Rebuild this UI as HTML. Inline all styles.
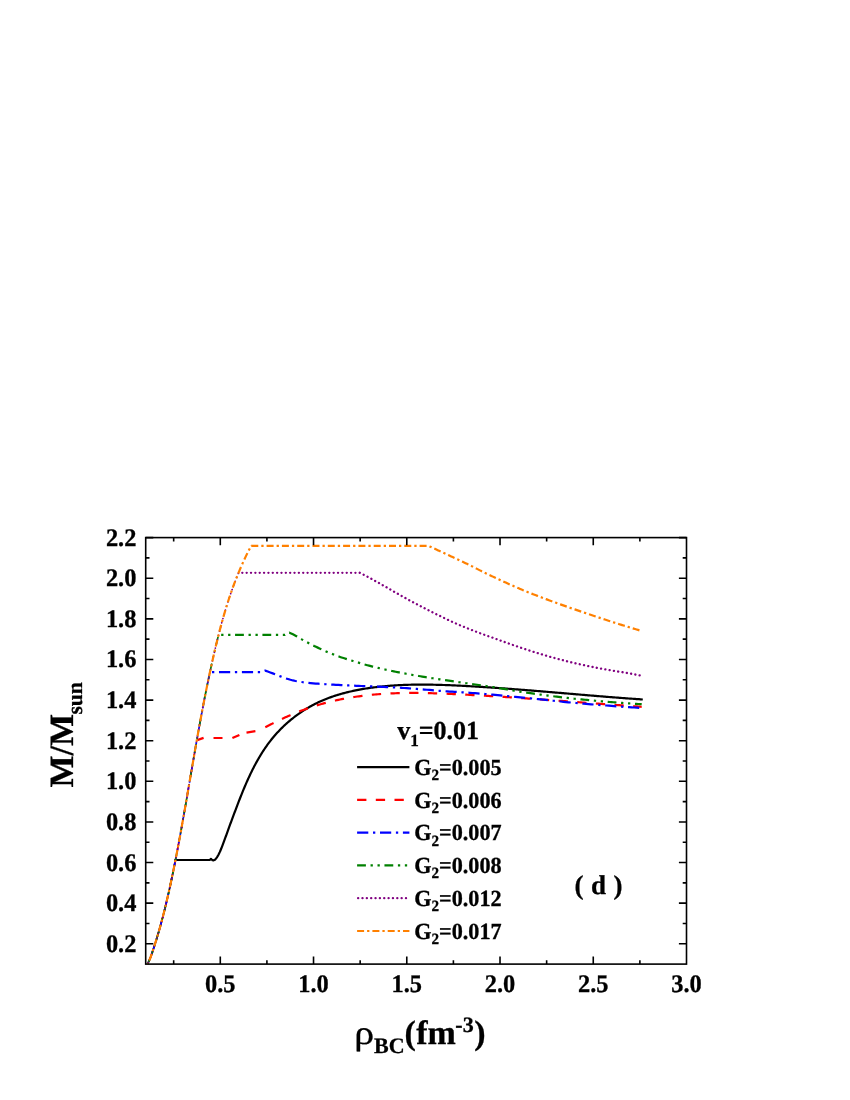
<!DOCTYPE html>
<html><head><meta charset="utf-8"><title>chart</title>
<style>html,body{margin:0;padding:0;background:#fff;}body{width:850px;height:1100px;position:relative;overflow:hidden;font-family:"Liberation Serif",serif;}</style>
</head><body>
<svg width="850" height="1100" viewBox="0 0 850 1100" style="position:absolute;left:0;top:0;will-change:transform">
<rect width="850" height="1100" fill="#fff"/>
<g fill="none" stroke-width="2.2" stroke-linejoin="round">
<path d="M147.60,964.00 L148.02,963.13 L148.43,962.25 L148.83,961.38 L149.22,960.50 L149.60,959.63 L149.96,958.76 L150.32,957.88 L150.66,957.01 L150.99,956.13 L151.31,955.26 L151.62,954.39 L151.91,953.51 L152.20,952.64 L152.49,951.76 L152.78,950.89 L153.06,950.02 L153.35,949.14 L153.64,948.27 L153.93,947.39 L154.21,946.52 L154.49,945.65 L154.77,944.77 L155.05,943.90 L155.33,943.03 L155.60,942.15 L155.88,941.28 L156.15,940.40 L156.42,939.53 L156.68,938.66 L156.95,937.78 L157.21,936.91 L157.48,936.03 L157.74,935.16 L157.99,934.29 L158.25,933.41 L158.51,932.54 L158.76,931.66 L159.01,930.79 L159.26,929.92 L159.51,929.04 L159.76,928.17 L160.00,927.29 L160.24,926.42 L160.49,925.55 L160.73,924.67 L160.97,923.80 L161.20,922.92 L161.44,922.05 L161.67,921.18 L161.91,920.30 L162.14,919.43 L162.37,918.55 L162.60,917.68 L162.83,916.81 L163.06,915.93 L163.28,915.06 L163.51,914.18 L163.73,913.31 L163.95,912.44 L164.17,911.56 L164.39,910.69 L164.61,909.82 L164.83,908.94 L165.04,908.07 L165.25,907.19 L165.47,906.32 L165.68,905.45 L165.89,904.57 L166.10,903.70 L166.30,902.82 L166.51,901.95 L166.72,901.08 L166.92,900.20 L167.12,899.33 L167.33,898.45 L167.53,897.58 L167.73,896.71 L167.93,895.83 L168.13,894.96 L168.32,894.08 L168.52,893.21 L168.72,892.34 L168.91,891.46 L169.11,890.59 L169.30,889.71 L169.50,888.84 L169.69,887.97 L169.88,887.09 L170.07,886.22 L170.26,885.34 L170.45,884.47 L170.64,883.60 L170.82,882.72 L171.01,881.85 L171.19,880.97 L171.38,880.10 L171.56,879.23 L171.75,878.35 L171.93,877.48 L172.11,876.61 L172.29,875.73 L172.48,874.86 L172.66,873.98 L172.84,873.11 L173.02,872.24 L173.20,871.36 L173.37,870.49 L173.55,869.61 L173.73,868.74 L173.90,867.87 L174.08,866.99 L174.25,866.12 L174.43,865.24 L174.60,864.37 L174.78,863.50 L174.95,862.62 L175.12,861.75 L175.30,860.87 L175.47,860.00 L175.47,860.00" stroke="#000000" stroke-width="1.7"/>
<path d="M175.47,860.00 L210.00,859.90 L210.50,859.30 L210.95,858.80 L211.50,859.30 L212.40,860.00 L212.39,860.05 L213.71,860.33 L214.79,859.85 L215.71,858.93 L216.53,857.87 L217.28,856.78 L217.97,855.66 L218.60,854.51 L219.19,853.34 L219.74,852.15 L220.26,850.95 L220.77,849.74 L221.26,848.52 L221.74,847.30 L222.22,846.08 L222.69,844.85 L223.15,843.63 L223.61,842.40 L224.07,841.17 L224.52,839.94 L224.97,838.71 L225.42,837.48 L225.87,836.25 L226.31,835.02 L226.75,833.79 L227.19,832.56 L227.64,831.33 L228.08,830.10 L228.52,828.87 L228.97,827.65 L229.41,826.42 L229.86,825.20 L230.31,823.98 L230.76,822.75 L231.21,821.53 L231.66,820.31 L232.12,819.09 L232.57,817.87 L233.03,816.64 L233.49,815.42 L233.95,814.20 L234.41,812.97 L234.87,811.75 L235.33,810.52 L235.79,809.30 L236.26,808.07 L236.72,806.84 L237.19,805.61 L237.66,804.39 L238.13,803.16 L238.60,801.93 L239.08,800.70 L239.55,799.48 L240.03,798.25 L240.52,797.03 L241.00,795.80 L241.49,794.58 L241.99,793.35 L242.48,792.13 L242.98,790.91 L243.48,789.69 L243.99,788.48 L244.50,787.26 L245.01,786.05 L245.53,784.84 L246.05,783.63 L246.58,782.42 L247.11,781.22 L247.65,780.01 L248.19,778.81 L248.74,777.62 L249.29,776.42 L249.85,775.23 L250.41,774.05 L250.98,772.86 L251.55,771.68 L252.13,770.50 L252.72,769.33 L253.31,768.16 L253.91,767.00 L254.52,765.84 L255.13,764.68 L255.75,763.53 L256.38,762.38 L257.01,761.23 L257.65,760.09 L258.30,758.96 L258.96,757.83 L259.62,756.71 L260.29,755.59 L260.97,754.48 L261.66,753.37 L262.35,752.27 L263.06,751.17 L263.77,750.08 L264.50,749.00 L265.23,747.92 L265.97,746.85 L266.72,745.79 L267.48,744.73 L268.24,743.68 L269.02,742.63 L269.81,741.60 L270.61,740.57 L271.42,739.54 L272.24,738.53 L273.07,737.52 L273.90,736.52 L274.75,735.53 L275.62,734.54 L276.49,733.57 L277.37,732.60 L278.26,731.64 L279.16,730.69 L280.07,729.74 L280.99,728.81 L281.92,727.88 L282.85,726.97 L283.80,726.06 L284.76,725.16 L285.73,724.27 L286.70,723.39 L287.68,722.52 L288.68,721.65 L289.68,720.80 L290.69,719.96 L291.70,719.13 L292.73,718.30 L293.76,717.49 L294.80,716.69 L295.85,715.89 L296.91,715.11 L297.97,714.34 L299.05,713.58 L300.13,712.83 L301.21,712.09 L302.31,711.36 L303.41,710.64 L304.52,709.93 L305.63,709.24 L306.75,708.55 L307.88,707.88 L309.01,707.22 L310.15,706.57 L311.30,705.93 L312.45,705.31 L313.61,704.69 L314.77,704.09 L315.94,703.50 L317.12,702.92 L318.30,702.36 L319.48,701.81 L320.68,701.27 L321.87,700.74 L323.07,700.22 L324.28,699.71 L325.49,699.22 L326.71,698.74 L327.92,698.26 L329.15,697.80 L330.38,697.35 L331.61,696.91 L332.85,696.49 L334.09,696.07 L335.33,695.66 L336.58,695.26 L337.83,694.87 L339.08,694.49 L340.34,694.12 L341.60,693.77 L342.86,693.42 L344.13,693.07 L345.40,692.74 L346.67,692.42 L347.95,692.10 L349.22,691.80 L350.50,691.50 L351.78,691.21 L353.06,690.93 L354.35,690.66 L355.64,690.39 L356.92,690.13 L358.21,689.88 L359.51,689.64 L360.80,689.40 L362.09,689.17 L363.39,688.95 L364.68,688.74 L365.98,688.53 L367.27,688.33 L368.57,688.13 L369.87,687.94 L371.17,687.76 L372.47,687.58 L373.77,687.41 L375.06,687.24 L376.37,687.08 L377.67,686.93 L378.97,686.78 L380.27,686.64 L381.57,686.50 L382.87,686.37 L384.17,686.24 L385.48,686.12 L386.78,686.00 L388.08,685.89 L389.39,685.79 L390.69,685.69 L392.00,685.59 L393.30,685.50 L394.61,685.41 L395.91,685.33 L397.22,685.26 L398.52,685.18 L399.83,685.12 L401.14,685.05 L402.44,685.00 L403.75,684.94 L405.06,684.89 L406.37,684.85 L407.68,684.80 L408.98,684.77 L410.29,684.73 L411.60,684.70 L412.91,684.68 L414.22,684.66 L415.53,684.64 L416.84,684.62 L418.15,684.61 L419.46,684.60 L420.77,684.60 L422.08,684.60 L423.39,684.60 L424.70,684.61 L426.01,684.61 L427.32,684.63 L428.63,684.64 L429.94,684.66 L431.25,684.68 L432.56,684.70 L433.87,684.73 L435.18,684.76 L436.49,684.79 L437.80,684.82 L439.11,684.85 L440.43,684.89 L441.74,684.93 L443.05,684.98 L444.36,685.02 L445.67,685.07 L446.98,685.12 L448.29,685.17 L449.60,685.22 L450.91,685.27 L452.22,685.33 L453.53,685.39 L454.84,685.45 L456.16,685.51 L457.47,685.57 L458.78,685.63 L460.09,685.70 L461.40,685.76 L462.71,685.83 L464.02,685.90 L465.33,685.96 L466.64,686.03 L467.94,686.11 L469.25,686.18 L470.56,686.25 L471.87,686.32 L473.18,686.40 L474.49,686.48 L475.80,686.55 L477.11,686.63 L478.42,686.71 L479.72,686.79 L481.03,686.87 L482.34,686.95 L483.65,687.03 L484.96,687.12 L486.26,687.20 L487.57,687.29 L488.88,687.37 L490.19,687.46 L491.50,687.55 L492.80,687.63 L494.11,687.72 L495.42,687.81 L496.72,687.90 L498.03,688.00 L499.34,688.09 L500.65,688.18 L501.95,688.27 L503.26,688.37 L504.57,688.46 L505.87,688.56 L507.18,688.65 L508.48,688.75 L509.79,688.85 L511.10,688.95 L512.40,689.04 L513.71,689.14 L515.02,689.24 L516.32,689.34 L517.63,689.44 L518.93,689.54 L520.24,689.65 L521.55,689.75 L522.85,689.85 L524.16,689.95 L525.46,690.06 L526.77,690.16 L528.07,690.27 L529.38,690.37 L530.69,690.47 L531.99,690.58 L533.30,690.69 L534.60,690.79 L535.91,690.90 L537.21,691.01 L538.52,691.11 L539.82,691.22 L541.13,691.33 L542.43,691.44 L543.74,691.54 L545.04,691.65 L546.35,691.76 L547.65,691.87 L548.96,691.98 L550.26,692.09 L551.57,692.20 L552.88,692.31 L554.18,692.42 L555.49,692.53 L556.79,692.64 L558.10,692.75 L559.40,692.86 L560.71,692.97 L562.01,693.08 L563.32,693.19 L564.62,693.30 L565.93,693.41 L567.23,693.52 L568.54,693.63 L569.84,693.74 L571.15,693.85 L572.45,693.96 L573.76,694.07 L575.06,694.19 L576.37,694.30 L577.67,694.41 L578.98,694.52 L580.28,694.63 L581.59,694.74 L582.89,694.85 L584.20,694.95 L585.51,695.06 L586.81,695.17 L588.12,695.28 L589.42,695.39 L590.73,695.50 L592.03,695.61 L593.34,695.72 L594.65,695.82 L595.95,695.93 L597.26,696.04 L598.56,696.14 L599.87,696.25 L601.17,696.36 L602.48,696.46 L603.79,696.57 L605.09,696.67 L606.40,696.78 L607.71,696.88 L609.01,696.98 L610.32,697.09 L611.63,697.19 L612.93,697.29 L614.24,697.40 L615.55,697.50 L616.85,697.60 L618.16,697.70 L619.47,697.80 L620.77,697.90 L622.08,698.00 L623.39,698.09 L624.70,698.19 L626.00,698.29 L627.31,698.38 L628.62,698.48 L629.93,698.58 L631.23,698.67 L632.54,698.76 L633.85,698.86 L635.16,698.95 L636.47,699.04 L637.77,699.13 L639.08,699.22 L640.39,699.31 L641.70,699.40" stroke="#000000" stroke-linecap="square"/>
<path d="M147.60,964.00 L148.49,962.12 L149.34,960.24 L150.13,958.35 L150.87,956.47 L151.55,954.59 L152.18,952.71 L152.80,950.82 L153.42,948.94 L154.04,947.06 L154.65,945.18 L155.24,943.29 L155.83,941.41 L156.42,939.53 L156.99,937.65 L157.56,935.76 L158.11,933.88 L158.66,932.00 L159.20,930.12 L159.74,928.24 L160.26,926.35 L160.78,924.47 L161.29,922.59 L161.80,920.71 L162.30,918.82 L162.79,916.94 L163.28,915.06 L163.76,913.18 L164.24,911.29 L164.71,909.41 L165.17,907.53 L165.63,905.65 L166.08,903.76 L166.53,901.88 L166.97,900.00 L167.40,898.12 L167.84,896.24 L168.26,894.35 L168.69,892.47 L169.11,890.59 L169.53,888.71 L169.94,886.82 L170.35,884.94 L170.75,883.06 L171.15,881.18 L171.55,879.29 L171.94,877.41 L172.34,875.53 L172.73,873.65 L173.11,871.76 L173.50,869.88 L173.88,868.00 L174.25,866.12 L174.63,864.24 L175.00,862.35 L175.38,860.47 L175.75,858.59 L176.11,856.71 L176.48,854.82 L176.84,852.94 L177.21,851.06 L177.57,849.18 L177.92,847.29 L178.28,845.41 L178.63,843.53 L178.98,841.65 L179.33,839.76 L179.68,837.88 L180.03,836.00 L180.38,834.12 L180.73,832.24 L181.07,830.35 L181.41,828.47 L181.75,826.59 L182.09,824.71 L182.43,822.82 L182.77,820.94 L183.11,819.06 L183.44,817.18 L183.77,815.29 L184.10,813.41 L184.43,811.53 L184.76,809.65 L185.09,807.76 L185.42,805.88 L185.75,804.00 L186.08,802.12 L186.41,800.24 L186.73,798.35 L187.06,796.47 L187.38,794.59 L187.70,792.71 L188.03,790.82 L188.35,788.94 L188.68,787.06 L189.00,785.18 L189.32,783.29 L189.65,781.41 L189.97,779.53 L190.30,777.65 L190.62,775.76 L190.94,773.88 L191.27,772.00 L191.59,770.12 L191.92,768.24 L192.24,766.35 L192.56,764.47 L192.89,762.59 L193.22,760.71 L193.54,758.82 L193.87,756.94 L194.20,755.06 L194.53,753.18 L194.85,751.29 L195.18,749.41 L195.51,747.53 L195.84,745.65 L196.17,743.76 L196.50,741.88 L196.84,740.00" stroke="#ff0000" stroke-width="1.7" stroke-dasharray="9.3 9.4" stroke-dashoffset="13.35"/>
<path d="M197.10,740.10 L203.60,737.90 M213.50,738.00 L222.50,738.00 M232.40,738.00 L239.40,734.90 M246.50,732.60 L255.40,731.20" stroke="#ff0000"/>
<path d="M265.30,727.30 L266.72,726.55 L268.14,725.81 L269.56,725.07 L270.98,724.34 L272.41,723.61 L273.84,722.89 L275.28,722.17 L276.72,721.46 L278.16,720.76 L279.60,720.06 L281.05,719.37 L282.50,718.69 L283.96,718.01 L285.42,717.34 L286.88,716.68 L288.34,716.03 L289.81,715.39 L291.28,714.75 L292.75,714.12 L294.23,713.50 L295.71,712.89 L297.20,712.29 L298.68,711.70 L300.17,711.11 L301.67,710.54 L303.17,709.98 L304.67,709.43 L306.17,708.88 L307.68,708.35 L309.19,707.83 L310.70,707.32 L312.22,706.82 L313.74,706.33 L315.27,705.85 L316.79,705.38 L318.32,704.92 L319.86,704.47 L321.39,704.03 L322.93,703.60 L324.47,703.18 L326.01,702.77 L327.56,702.37 L329.11,701.98 L330.66,701.60 L332.21,701.23 L333.77,700.86 L335.33,700.51 L336.89,700.17 L338.45,699.83 L340.01,699.51 L341.58,699.19 L343.15,698.89 L344.72,698.59 L346.29,698.30 L347.86,698.02 L349.44,697.74 L351.01,697.48 L352.59,697.23 L354.17,696.98 L355.75,696.74 L357.33,696.51 L358.91,696.29 L360.50,696.08 L362.08,695.87 L363.67,695.67 L365.26,695.48 L366.84,695.30 L368.43,695.13 L370.02,694.96 L371.61,694.80 L373.20,694.65 L374.80,694.51 L376.39,694.37 L377.98,694.24 L379.57,694.12 L381.17,694.00 L382.76,693.89 L384.36,693.79 L385.96,693.70 L387.55,693.61 L389.15,693.52 L390.75,693.45 L392.34,693.38 L393.94,693.31 L395.54,693.25 L397.14,693.20 L398.74,693.15 L400.34,693.11 L401.94,693.07 L403.54,693.04 L405.15,693.01 L406.75,692.99 L408.35,692.98 L409.95,692.96 L411.55,692.96 L413.16,692.95 L414.76,692.96 L416.36,692.96 L417.97,692.97 L419.57,692.99 L421.18,693.01 L422.78,693.03 L424.38,693.06 L425.99,693.09 L427.59,693.12 L429.20,693.16 L430.80,693.20 L432.41,693.24 L434.01,693.29 L435.62,693.34 L437.22,693.39 L438.83,693.44 L440.43,693.50 L442.04,693.56 L443.64,693.62 L445.24,693.69 L446.85,693.76 L448.45,693.82 L450.06,693.90 L451.66,693.97 L453.26,694.04 L454.87,694.12 L456.47,694.20 L458.07,694.28 L459.68,694.36 L461.28,694.44 L462.88,694.52 L464.48,694.60 L466.08,694.69 L467.68,694.77 L469.28,694.86 L470.88,694.94 L472.49,695.03 L474.09,695.12 L475.68,695.21 L477.28,695.30 L478.88,695.39 L480.48,695.48 L482.08,695.58 L483.68,695.67 L485.28,695.76 L486.88,695.86 L488.47,695.95 L490.07,696.05 L491.67,696.15 L493.27,696.25 L494.86,696.35 L496.46,696.45 L498.06,696.55 L499.65,696.65 L501.25,696.75 L502.84,696.85 L504.44,696.95 L506.04,697.06 L507.63,697.16 L509.23,697.27 L510.82,697.37 L512.42,697.48 L514.01,697.58 L515.61,697.69 L517.20,697.80 L518.80,697.91 L520.39,698.01 L521.98,698.12 L523.58,698.23 L525.17,698.34 L526.77,698.45 L528.36,698.56 L529.96,698.68 L531.55,698.79 L533.14,698.90 L534.74,699.01 L536.33,699.13 L537.92,699.24 L539.52,699.35 L541.11,699.47 L542.71,699.58 L544.30,699.70 L545.89,699.81 L547.49,699.93 L549.08,700.04 L550.67,700.16 L552.27,700.27 L553.86,700.39 L555.45,700.51 L557.05,700.62 L558.64,700.74 L560.24,700.86 L561.83,700.97 L563.42,701.09 L565.02,701.21 L566.61,701.33 L568.21,701.45 L569.80,701.56 L571.39,701.68 L572.99,701.80 L574.58,701.92 L576.18,702.04 L577.77,702.16 L579.37,702.27 L580.96,702.39 L582.55,702.51 L584.15,702.63 L585.74,702.75 L587.34,702.87 L588.94,702.99 L590.53,703.11 L592.13,703.22 L593.72,703.34 L595.32,703.46 L596.91,703.58 L598.51,703.70 L600.11,703.81 L601.70,703.93 L603.30,704.05 L604.90,704.17 L606.50,704.29 L608.09,704.40 L609.69,704.52 L611.29,704.64 L612.89,704.75 L614.49,704.87 L616.08,704.99 L617.68,705.10 L619.28,705.22 L620.88,705.33 L622.48,705.45 L624.08,705.56 L625.68,705.68 L627.28,705.79 L628.88,705.90 L630.48,706.02 L632.09,706.13 L633.69,706.24 L635.29,706.36 L636.89,706.47 L638.49,706.58 L640.10,706.69 L641.70,706.80" stroke="#ff0000" stroke-dasharray="9.3 9.4" stroke-dashoffset="0.00"/>
<path d="M147.60,964.00 L148.75,961.55 L149.82,959.10 L150.80,956.64 L151.68,954.19 L152.50,951.74 L153.31,949.29 L154.11,946.84 L154.90,944.38 L155.67,941.93 L156.43,939.48 L157.18,937.03 L157.91,934.57 L158.63,932.12 L159.33,929.67 L160.02,927.22 L160.70,924.77 L161.37,922.31 L162.03,919.86 L162.67,917.41 L163.31,914.96 L163.93,912.51 L164.55,910.05 L165.15,907.60 L165.75,905.15 L166.33,902.70 L166.91,900.25 L167.48,897.79 L168.04,895.34 L168.59,892.89 L169.14,890.44 L169.69,887.98 L170.22,885.53 L170.75,883.08 L171.27,880.63 L171.78,878.18 L172.30,875.72 L172.80,873.27 L173.31,870.82 L173.80,868.37 L174.30,865.92 L174.78,863.46 L175.27,861.01 L175.75,858.56 L176.23,856.11 L176.71,853.66 L177.18,851.20 L177.65,848.75 L178.11,846.30 L178.57,843.85 L179.03,841.39 L179.49,838.94 L179.94,836.49 L180.39,834.04 L180.85,831.59 L181.29,829.13 L181.74,826.68 L182.18,824.23 L182.62,821.78 L183.06,819.33 L183.49,816.87 L183.93,814.42 L184.36,811.97 L184.78,809.52 L185.21,807.07 L185.64,804.61 L186.07,802.16 L186.50,799.71 L186.92,797.26 L187.34,794.81 L187.76,792.35 L188.19,789.90 L188.61,787.45 L189.03,785.00 L189.45,782.54 L189.87,780.09 L190.30,777.64 L190.72,775.19 L191.14,772.74 L191.56,770.28 L191.98,767.83 L192.41,765.38 L192.83,762.93 L193.26,760.48 L193.68,758.02 L194.11,755.57 L194.54,753.12 L194.96,750.67 L195.39,748.22 L195.82,745.76 L196.25,743.31 L196.69,740.86 L197.12,738.41 L197.56,735.95 L198.00,733.50 L198.44,731.05 L198.88,728.60 L199.33,726.15 L199.78,723.69 L200.23,721.24 L200.68,718.79 L201.14,716.34 L201.60,713.89 L202.06,711.43 L202.52,708.98 L202.99,706.53 L203.46,704.08 L203.93,701.63 L204.41,699.17 L204.89,696.72 L205.38,694.27 L205.87,691.82 L206.37,689.36 L206.87,686.91 L207.36,684.46 L207.87,682.01 L208.37,679.56 L208.89,677.10 L209.41,674.65 L209.94,672.20 L209.94,672.20" stroke="#0000ff" stroke-width="1.7" stroke-dasharray="11.2 4.7 2.3 4.7" stroke-dashoffset="12.75"/>
<path d="M209.94,672.20 L260.50,672.20 L265.20,670.60 L265.20,670.60 L267.73,671.53 L270.25,672.46 L272.78,673.40 L275.31,674.34 L277.83,675.34 L280.36,676.36 L282.89,677.34 L285.41,678.26 L287.94,679.05 L290.47,679.78 L293.00,680.44 L295.52,680.99 L298.05,681.44 L300.58,681.85 L303.10,682.22 L305.63,682.55 L308.16,682.84 L310.68,683.10 L313.21,683.33 L315.74,683.53 L318.26,683.72 L320.79,683.90 L323.32,684.07 L325.84,684.23 L328.37,684.39 L330.90,684.55 L333.42,684.69 L335.95,684.83 L338.48,684.97 L341.01,685.10 L343.53,685.23 L346.06,685.35 L348.59,685.47 L351.11,685.58 L353.64,685.68 L356.17,685.78 L358.69,685.88 L361.22,685.98 L363.75,686.08 L366.27,686.18 L368.80,686.28 L371.33,686.38 L373.85,686.49 L376.38,686.60 L378.91,686.71 L381.43,686.82 L383.96,686.93 L386.49,687.04 L389.02,687.16 L391.54,687.28 L394.07,687.41 L396.60,687.54 L399.12,687.69 L401.65,687.85 L404.18,688.02 L406.70,688.19 L409.23,688.38 L411.76,688.57 L414.28,688.77 L416.81,688.96 L419.34,689.16 L421.86,689.35 L424.39,689.55 L426.92,689.76 L429.44,689.97 L431.97,690.18 L434.50,690.40 L437.03,690.61 L439.55,690.81 L442.08,691.01 L444.61,691.19 L447.13,691.37 L449.66,691.53 L452.19,691.69 L454.71,691.84 L457.24,691.99 L459.77,692.14 L462.29,692.29 L464.82,692.45 L467.35,692.61 L469.87,692.79 L472.40,692.98 L474.93,693.17 L477.46,693.37 L479.98,693.58 L482.51,693.79 L485.04,694.01 L487.56,694.23 L490.09,694.45 L492.62,694.68 L495.14,694.92 L497.67,695.15 L500.20,695.39 L502.72,695.63 L505.25,695.88 L507.78,696.12 L510.30,696.36 L512.83,696.61 L515.36,696.86 L517.88,697.10 L520.41,697.35 L522.94,697.59 L525.47,697.83 L527.99,698.08 L530.52,698.33 L533.05,698.59 L535.57,698.85 L538.10,699.12 L540.63,699.38 L543.15,699.65 L545.68,699.92 L548.21,700.19 L550.73,700.46 L553.26,700.73 L555.79,701.00 L558.31,701.27 L560.84,701.53 L563.37,701.79 L565.89,702.04 L568.42,702.29 L570.95,702.54 L573.48,702.77 L576.00,703.01 L578.53,703.23 L581.06,703.45 L583.58,703.66 L586.11,703.88 L588.64,704.09 L591.16,704.30 L593.69,704.51 L596.22,704.72 L598.74,704.92 L601.27,705.13 L603.80,705.33 L606.32,705.52 L608.85,705.72 L611.38,705.91 L613.90,706.10 L616.43,706.29 L618.96,706.47 L621.49,706.65 L624.01,706.83 L626.54,707.01 L629.07,707.18 L631.59,707.35 L634.12,707.52 L636.65,707.68 L639.17,707.84 L641.70,708.00" stroke="#0000ff" stroke-dasharray="11.2 4.7 2.3 4.7" stroke-dashoffset="13.85"/>
<path d="M147.60,964.00 L148.89,961.23 L150.08,958.47 L151.15,955.70 L152.11,952.94 L153.01,950.17 L153.92,947.41 L154.82,944.64 L155.69,941.88 L156.55,939.11 L157.38,936.34 L158.20,933.58 L159.00,930.81 L159.79,928.05 L160.56,925.28 L161.31,922.52 L162.06,919.75 L162.78,916.99 L163.50,914.22 L164.20,911.45 L164.89,908.69 L165.56,905.92 L166.22,903.16 L166.88,900.39 L167.52,897.63 L168.15,894.86 L168.77,892.10 L169.39,889.33 L170.00,886.56 L170.59,883.80 L171.18,881.03 L171.76,878.27 L172.34,875.50 L172.91,872.74 L173.48,869.97 L174.04,867.21 L174.59,864.44 L175.14,861.67 L175.68,858.91 L176.22,856.14 L176.76,853.38 L177.29,850.61 L177.82,847.85 L178.34,845.08 L178.86,842.32 L179.37,839.55 L179.89,836.78 L180.40,834.02 L180.91,831.25 L181.41,828.49 L181.91,825.72 L182.41,822.96 L182.90,820.19 L183.40,817.43 L183.88,814.66 L184.37,811.89 L184.85,809.13 L185.34,806.36 L185.82,803.60 L186.30,800.83 L186.78,798.07 L187.26,795.30 L187.73,792.54 L188.21,789.77 L188.68,787.01 L189.16,784.24 L189.64,781.47 L190.11,778.71 L190.59,775.94 L191.07,773.18 L191.54,770.41 L192.02,767.65 L192.49,764.88 L192.97,762.12 L193.45,759.35 L193.93,756.58 L194.41,753.82 L194.89,751.05 L195.38,748.29 L195.86,745.52 L196.35,742.76 L196.84,739.99 L197.33,737.23 L197.83,734.46 L198.32,731.69 L198.82,728.93 L199.32,726.16 L199.83,723.40 L200.34,720.63 L200.86,717.87 L201.37,715.10 L201.89,712.34 L202.41,709.57 L202.94,706.80 L203.47,704.04 L204.00,701.27 L204.54,698.51 L205.09,695.74 L205.64,692.98 L206.20,690.21 L206.76,687.45 L207.32,684.68 L207.88,681.91 L208.46,679.15 L209.04,676.38 L209.63,673.62 L210.23,670.85 L210.82,668.09 L211.43,665.32 L212.04,662.56 L212.65,659.79 L213.28,657.02 L213.91,654.26 L214.55,651.49 L215.20,648.73 L215.85,645.96 L216.52,643.20 L217.19,640.43 L217.87,637.67 L218.57,634.90 L218.57,634.90" stroke="#008000" stroke-width="1.7" stroke-dasharray="8.8 4.65 2.3 4.65 2.3 4.65" stroke-dashoffset="1.96"/>
<path d="M218.57,634.90 L285.00,634.90 L289.40,632.70 L289.40,632.70 L291.17,633.50 L292.94,634.35 L294.71,635.25 L296.48,636.19 L298.25,637.22 L300.02,638.31 L301.79,639.38 L303.56,640.37 L305.33,641.33 L307.10,642.27 L308.87,643.23 L310.64,644.20 L312.41,645.15 L314.18,646.03 L315.96,646.85 L317.73,647.63 L319.50,648.40 L321.27,649.21 L323.04,650.04 L324.81,650.88 L326.58,651.66 L328.35,652.40 L330.12,653.11 L331.89,653.82 L333.66,654.53 L335.43,655.24 L337.20,655.93 L338.97,656.57 L340.74,657.17 L342.51,657.74 L344.28,658.29 L346.05,658.85 L347.82,659.40 L349.59,659.93 L351.36,660.47 L353.13,661.00 L354.90,661.53 L356.67,662.05 L358.44,662.58 L360.21,663.12 L361.98,663.67 L363.75,664.20 L365.53,664.70 L367.30,665.19 L369.07,665.66 L370.84,666.11 L372.61,666.56 L374.38,666.99 L376.15,667.42 L377.92,667.85 L379.69,668.26 L381.46,668.67 L383.23,669.07 L385.00,669.47 L386.77,669.86 L388.54,670.24 L390.31,670.62 L392.08,670.99 L393.85,671.35 L395.62,671.72 L397.39,672.07 L399.16,672.42 L400.93,672.77 L402.70,673.11 L404.47,673.44 L406.24,673.78 L408.01,674.10 L409.78,674.43 L411.55,674.75 L413.32,675.06 L415.09,675.37 L416.87,675.68 L418.64,675.99 L420.41,676.29 L422.18,676.58 L423.95,676.87 L425.72,677.16 L427.49,677.45 L429.26,677.73 L431.03,678.00 L432.80,678.27 L434.57,678.54 L436.34,678.81 L438.11,679.08 L439.88,679.34 L441.65,679.61 L443.42,679.88 L445.19,680.15 L446.96,680.41 L448.73,680.68 L450.50,680.94 L452.27,681.20 L454.04,681.46 L455.81,681.73 L457.58,681.99 L459.35,682.24 L461.12,682.50 L462.89,682.76 L464.66,683.01 L466.44,683.26 L468.21,683.51 L469.98,683.75 L471.75,684.00 L473.52,684.24 L475.29,684.49 L477.06,684.73 L478.83,684.98 L480.60,685.23 L482.37,685.48 L484.14,685.73 L485.91,685.99 L487.68,686.25 L489.45,686.52 L491.22,686.79 L492.99,687.07 L494.76,687.36 L496.53,687.65 L498.30,687.95 L500.07,688.26 L501.84,688.57 L503.61,688.88 L505.38,689.19 L507.15,689.50 L508.92,689.81 L510.69,690.12 L512.46,690.43 L514.23,690.73 L516.01,691.03 L517.78,691.32 L519.55,691.61 L521.32,691.88 L523.09,692.15 L524.86,692.41 L526.63,692.67 L528.40,692.92 L530.17,693.17 L531.94,693.42 L533.71,693.67 L535.48,693.92 L537.25,694.16 L539.02,694.41 L540.79,694.65 L542.56,694.89 L544.33,695.12 L546.10,695.36 L547.87,695.59 L549.64,695.82 L551.41,696.05 L553.18,696.27 L554.95,696.49 L556.72,696.71 L558.49,696.93 L560.26,697.14 L562.03,697.35 L563.80,697.56 L565.57,697.76 L567.35,697.96 L569.12,698.15 L570.89,698.35 L572.66,698.53 L574.43,698.72 L576.20,698.90 L577.97,699.08 L579.74,699.25 L581.51,699.42 L583.28,699.60 L585.05,699.77 L586.82,699.93 L588.59,700.10 L590.36,700.27 L592.13,700.43 L593.90,700.60 L595.67,700.76 L597.44,700.92 L599.21,701.07 L600.98,701.23 L602.75,701.38 L604.52,701.54 L606.29,701.69 L608.06,701.83 L609.83,701.98 L611.60,702.12 L613.37,702.27 L615.14,702.41 L616.92,702.54 L618.69,702.68 L620.46,702.81 L622.23,702.94 L624.00,703.07 L625.77,703.19 L627.54,703.32 L629.31,703.44 L631.08,703.55 L632.85,703.67 L634.62,703.78 L636.39,703.89 L638.16,704.00 L639.93,704.10 L641.70,704.20" stroke="#008000" stroke-dasharray="8.8 4.65 2.3 4.65 2.3 4.65" stroke-dashoffset="10.85"/>
<path d="M147.60,964.00 L149.13,960.71 L150.50,957.43 L151.70,954.14 L152.79,950.85 L153.87,947.56 L154.93,944.28 L155.97,940.99 L156.97,937.70 L157.96,934.41 L158.91,931.13 L159.85,927.84 L160.76,924.55 L161.65,921.26 L162.52,917.98 L163.38,914.69 L164.21,911.40 L165.03,908.11 L165.83,904.83 L166.61,901.54 L167.37,898.25 L168.13,894.96 L168.87,891.68 L169.60,888.39 L170.31,885.10 L171.02,881.82 L171.71,878.53 L172.40,875.24 L173.07,871.95 L173.74,868.67 L174.40,865.38 L175.06,862.09 L175.70,858.80 L176.35,855.52 L176.98,852.23 L177.61,848.94 L178.23,845.65 L178.85,842.37 L179.46,839.08 L180.07,835.79 L180.68,832.50 L181.28,829.22 L181.87,825.93 L182.47,822.64 L183.05,819.35 L183.64,816.07 L184.21,812.78 L184.79,809.49 L185.36,806.21 L185.94,802.92 L186.51,799.63 L187.08,796.34 L187.64,793.06 L188.21,789.77 L188.77,786.48 L189.34,783.19 L189.91,779.91 L190.47,776.62 L191.04,773.33 L191.60,770.04 L192.17,766.76 L192.74,763.47 L193.31,760.18 L193.88,756.89 L194.45,753.61 L195.02,750.32 L195.60,747.03 L196.17,743.74 L196.76,740.46 L197.34,737.17 L197.93,733.88 L198.52,730.59 L199.12,727.31 L199.72,724.02 L200.32,720.73 L200.94,717.45 L201.55,714.16 L202.17,710.87 L202.79,707.58 L203.42,704.30 L204.05,701.01 L204.70,697.72 L205.35,694.43 L206.01,691.15 L206.67,687.86 L207.34,684.57 L208.01,681.28 L208.70,678.00 L209.40,674.71 L210.11,671.42 L210.81,668.13 L211.53,664.85 L212.26,661.56 L212.99,658.27 L213.74,654.98 L214.50,651.70 L215.27,648.41 L216.05,645.12 L216.85,641.84 L217.65,638.55 L218.48,635.26 L219.32,631.97 L220.17,628.69 L221.04,625.40 L221.94,622.11 L222.86,618.82 L223.79,615.54 L224.75,612.25 L225.74,608.96 L226.75,605.67 L227.78,602.39 L228.85,599.10 L229.94,595.81 L231.07,592.52 L232.23,589.24 L233.42,585.95 L234.65,582.66 L235.90,579.37 L237.20,576.09 L238.53,572.80 L238.53,572.80" stroke="#800080" stroke-width="1.7" stroke-dasharray="0.1 4.25" stroke-dashoffset="2.77" stroke-linecap="round"/>
<path d="M238.53,572.80 L359.70,572.80 L359.70,572.80 L361.12,573.50 L362.53,574.21 L363.95,574.92 L365.37,575.64 L366.79,576.37 L368.20,577.12 L369.62,577.87 L371.04,578.64 L372.45,579.41 L373.87,580.19 L375.29,580.97 L376.71,581.76 L378.12,582.55 L379.54,583.35 L380.96,584.15 L382.37,584.95 L383.79,585.75 L385.21,586.55 L386.62,587.35 L388.04,588.16 L389.46,588.98 L390.88,589.80 L392.29,590.62 L393.71,591.44 L395.13,592.27 L396.54,593.09 L397.96,593.90 L399.38,594.72 L400.80,595.52 L402.21,596.32 L403.63,597.10 L405.05,597.89 L406.46,598.66 L407.88,599.44 L409.30,600.20 L410.72,600.97 L412.13,601.73 L413.55,602.49 L414.97,603.24 L416.38,603.99 L417.80,604.74 L419.22,605.48 L420.63,606.22 L422.05,606.95 L423.47,607.69 L424.89,608.42 L426.30,609.14 L427.72,609.87 L429.14,610.59 L430.55,611.30 L431.97,612.01 L433.39,612.72 L434.81,613.43 L436.22,614.13 L437.64,614.83 L439.06,615.52 L440.47,616.21 L441.89,616.91 L443.31,617.60 L444.73,618.29 L446.14,618.97 L447.56,619.66 L448.98,620.33 L450.39,621.00 L451.81,621.66 L453.23,622.30 L454.64,622.94 L456.06,623.57 L457.48,624.19 L458.90,624.80 L460.31,625.40 L461.73,625.99 L463.15,626.58 L464.56,627.16 L465.98,627.73 L467.40,628.30 L468.82,628.87 L470.23,629.43 L471.65,629.98 L473.07,630.53 L474.48,631.08 L475.90,631.62 L477.32,632.16 L478.74,632.69 L480.15,633.22 L481.57,633.74 L482.99,634.26 L484.40,634.78 L485.82,635.29 L487.24,635.80 L488.65,636.31 L490.07,636.82 L491.49,637.33 L492.91,637.84 L494.32,638.34 L495.74,638.85 L497.16,639.36 L498.57,639.86 L499.99,640.37 L501.41,640.88 L502.83,641.39 L504.24,641.90 L505.66,642.41 L507.08,642.92 L508.49,643.43 L509.91,643.93 L511.33,644.43 L512.75,644.93 L514.16,645.43 L515.58,645.92 L517.00,646.41 L518.41,646.90 L519.83,647.38 L521.25,647.86 L522.66,648.33 L524.08,648.79 L525.50,649.26 L526.92,649.72 L528.33,650.18 L529.75,650.63 L531.17,651.08 L532.58,651.54 L534.00,651.98 L535.42,652.43 L536.84,652.87 L538.25,653.31 L539.67,653.74 L541.09,654.17 L542.50,654.60 L543.92,655.02 L545.34,655.43 L546.76,655.84 L548.17,656.25 L549.59,656.65 L551.01,657.05 L552.42,657.44 L553.84,657.82 L555.26,658.21 L556.67,658.59 L558.09,658.97 L559.51,659.34 L560.93,659.71 L562.34,660.07 L563.76,660.44 L565.18,660.79 L566.59,661.15 L568.01,661.50 L569.43,661.85 L570.85,662.19 L572.26,662.53 L573.68,662.86 L575.10,663.19 L576.51,663.52 L577.93,663.84 L579.35,664.16 L580.77,664.47 L582.18,664.78 L583.60,665.09 L585.02,665.39 L586.43,665.70 L587.85,665.99 L589.27,666.29 L590.68,666.58 L592.10,666.87 L593.52,667.15 L594.94,667.44 L596.35,667.71 L597.77,667.99 L599.19,668.26 L600.60,668.53 L602.02,668.80 L603.44,669.06 L604.86,669.32 L606.27,669.57 L607.69,669.82 L609.11,670.06 L610.52,670.30 L611.94,670.53 L613.36,670.76 L614.78,670.99 L616.19,671.21 L617.61,671.44 L619.03,671.66 L620.44,671.89 L621.86,672.12 L623.28,672.35 L624.69,672.59 L626.11,672.84 L627.53,673.09 L628.95,673.34 L630.36,673.59 L631.78,673.85 L633.20,674.11 L634.61,674.37 L636.03,674.63 L637.45,674.89 L638.87,675.16 L640.28,675.43 L641.70,675.70" stroke="#800080" stroke-dasharray="0.1 4.25" stroke-dashoffset="0.60" stroke-linecap="round" stroke-width="2.3"/>
<path d="M147.60,964.00 L149.23,960.49 L150.68,956.97 L151.93,953.46 L153.09,949.94 L154.24,946.43 L155.36,942.91 L156.46,939.40 L157.52,935.89 L158.55,932.37 L159.56,928.86 L160.54,925.34 L161.50,921.83 L162.44,918.31 L163.35,914.80 L164.24,911.29 L165.11,907.77 L165.96,904.26 L166.79,900.74 L167.61,897.23 L168.41,893.71 L169.20,890.20 L169.97,886.69 L170.73,883.17 L171.47,879.66 L172.21,876.14 L172.94,872.63 L173.65,869.11 L174.36,865.60 L175.06,862.09 L175.75,858.57 L176.44,855.06 L177.11,851.54 L177.78,848.03 L178.45,844.51 L179.10,841.00 L179.76,837.49 L180.41,833.97 L181.05,830.46 L181.69,826.94 L182.32,823.43 L182.95,819.91 L183.58,816.40 L184.20,812.89 L184.81,809.37 L185.43,805.86 L186.04,802.34 L186.65,798.83 L187.25,795.31 L187.86,791.80 L188.46,788.29 L189.07,784.77 L189.67,781.26 L190.28,777.74 L190.88,774.23 L191.49,770.71 L192.09,767.20 L192.70,763.69 L193.31,760.17 L193.92,756.66 L194.53,753.14 L195.14,749.63 L195.76,746.11 L196.38,742.60 L197.00,739.09 L197.63,735.57 L198.26,732.06 L198.89,728.54 L199.53,725.03 L200.18,721.51 L200.83,718.00 L201.49,714.49 L202.15,710.97 L202.81,707.46 L203.49,703.94 L204.17,700.43 L204.86,696.91 L205.55,693.40 L206.26,689.89 L206.98,686.37 L207.69,682.86 L208.42,679.34 L209.16,675.83 L209.91,672.31 L210.67,668.80 L211.44,665.29 L212.21,661.77 L213.00,658.26 L213.80,654.74 L214.61,651.23 L215.44,647.71 L216.27,644.20 L217.13,640.69 L218.00,637.17 L218.88,633.66 L219.79,630.14 L220.72,626.63 L221.66,623.11 L222.64,619.60 L223.63,616.09 L224.66,612.57 L225.71,609.06 L226.79,605.54 L227.90,602.03 L229.04,598.51 L230.22,595.00 L231.43,591.49 L232.69,587.97 L233.97,584.46 L235.30,580.94 L236.67,577.43 L238.08,573.91 L239.53,570.40 L241.04,566.89 L242.58,563.37 L244.17,559.86 L245.81,556.34 L247.52,552.83 L249.36,549.31 L251.30,545.80 L251.30,545.80 L428.20,545.80 L428.20,545.80 L429.64,546.46 L431.07,547.12 L432.51,547.78 L433.95,548.44 L435.38,549.10 L436.82,549.76 L438.26,550.43 L439.70,551.09 L441.13,551.76 L442.57,552.42 L444.01,553.09 L445.44,553.76 L446.88,554.43 L448.32,555.10 L449.75,555.77 L451.19,556.44 L452.63,557.11 L454.06,557.78 L455.50,558.45 L456.94,559.12 L458.38,559.79 L459.81,560.46 L461.25,561.13 L462.69,561.79 L464.12,562.47 L465.56,563.14 L467.00,563.82 L468.43,564.51 L469.87,565.21 L471.31,565.91 L472.74,566.62 L474.18,567.36 L475.62,568.11 L477.06,568.87 L478.49,569.63 L479.93,570.36 L481.37,571.08 L482.80,571.79 L484.24,572.50 L485.68,573.19 L487.11,573.89 L488.55,574.57 L489.99,575.26 L491.42,575.94 L492.86,576.62 L494.30,577.29 L495.73,577.97 L497.17,578.64 L498.61,579.31 L500.05,579.98 L501.48,580.64 L502.92,581.30 L504.36,581.96 L505.79,582.61 L507.23,583.26 L508.67,583.91 L510.10,584.55 L511.54,585.19 L512.98,585.83 L514.41,586.47 L515.85,587.10 L517.29,587.73 L518.73,588.35 L520.16,588.96 L521.60,589.57 L523.04,590.16 L524.47,590.75 L525.91,591.34 L527.35,591.92 L528.78,592.49 L530.22,593.06 L531.66,593.62 L533.09,594.18 L534.53,594.74 L535.97,595.29 L537.41,595.85 L538.84,596.40 L540.28,596.95 L541.72,597.49 L543.15,598.03 L544.59,598.57 L546.03,599.11 L547.46,599.64 L548.90,600.17 L550.34,600.70 L551.77,601.23 L553.21,601.76 L554.65,602.28 L556.09,602.81 L557.52,603.33 L558.96,603.85 L560.40,604.36 L561.83,604.88 L563.27,605.39 L564.71,605.90 L566.14,606.41 L567.58,606.92 L569.02,607.42 L570.45,607.92 L571.89,608.42 L573.33,608.92 L574.77,609.41 L576.20,609.91 L577.64,610.40 L579.08,610.89 L580.51,611.39 L581.95,611.88 L583.39,612.36 L584.82,612.85 L586.26,613.34 L587.70,613.82 L589.13,614.31 L590.57,614.79 L592.01,615.27 L593.44,615.75 L594.88,616.23 L596.32,616.71 L597.76,617.18 L599.19,617.66 L600.63,618.13 L602.07,618.61 L603.50,619.08 L604.94,619.55 L606.38,620.02 L607.81,620.49 L609.25,620.96 L610.69,621.42 L612.12,621.89 L613.56,622.35 L615.00,622.81 L616.44,623.27 L617.87,623.73 L619.31,624.18 L620.75,624.63 L622.18,625.08 L623.62,625.53 L625.06,625.98 L626.49,626.42 L627.93,626.87 L629.37,627.31 L630.80,627.75 L632.24,628.19 L633.68,628.62 L635.12,629.06 L636.55,629.49 L637.99,629.92 L639.43,630.35 L640.86,630.77 L642.30,631.20" stroke="#ff8000" stroke-dasharray="7 3 2.3 3" stroke-dashoffset="11.44"/>
</g>
<g stroke="#000" stroke-width="1.6" fill="none" stroke-linecap="butt">
<rect x="145.7" y="537.6" width="540.80" height="426.50"/>
<path d="M173.67,964.1 v-3.8 M173.67,537.6 v3.8 M220.29,964.1 v-7.6 M220.29,537.6 v7.6 M266.91,964.1 v-3.8 M266.91,537.6 v3.8 M313.53,964.1 v-7.6 M313.53,537.6 v7.6 M360.16,964.1 v-3.8 M360.16,537.6 v3.8 M406.78,964.1 v-7.6 M406.78,537.6 v7.6 M453.40,964.1 v-3.8 M453.40,537.6 v3.8 M500.02,964.1 v-7.6 M500.02,537.6 v7.6 M546.64,964.1 v-3.8 M546.64,537.6 v3.8 M593.26,964.1 v-7.6 M593.26,537.6 v7.6 M639.88,964.1 v-3.8 M639.88,537.6 v3.8 M145.7,943.79 h7.6 M686.5,943.79 h-7.6 M145.7,923.48 h3.8 M686.5,923.48 h-3.8 M145.7,903.17 h7.6 M686.5,903.17 h-7.6 M145.7,882.86 h3.8 M686.5,882.86 h-3.8 M145.7,862.55 h7.6 M686.5,862.55 h-7.6 M145.7,842.24 h3.8 M686.5,842.24 h-3.8 M145.7,821.93 h7.6 M686.5,821.93 h-7.6 M145.7,801.62 h3.8 M686.5,801.62 h-3.8 M145.7,781.31 h7.6 M686.5,781.31 h-7.6 M145.7,761.00 h3.8 M686.5,761.00 h-3.8 M145.7,740.70 h7.6 M686.5,740.70 h-7.6 M145.7,720.39 h3.8 M686.5,720.39 h-3.8 M145.7,700.08 h7.6 M686.5,700.08 h-7.6 M145.7,679.77 h3.8 M686.5,679.77 h-3.8 M145.7,659.46 h7.6 M686.5,659.46 h-7.6 M145.7,639.15 h3.8 M686.5,639.15 h-3.8 M145.7,618.84 h7.6 M686.5,618.84 h-7.6 M145.7,598.53 h3.8 M686.5,598.53 h-3.8 M145.7,578.22 h7.6 M686.5,578.22 h-7.6 M145.7,557.91 h3.8 M686.5,557.91 h-3.8 M145.7,537.60 h7.6 M686.5,537.60 h-7.6"/>
</g>
<g font-family='"Liberation Serif", serif' font-weight="bold" fill="#000" stroke="#000" stroke-width="0.3" style="text-rendering:geometricPrecision">
<text transform="translate(136.40,951.79) scale(1.0,1.035)" font-size="24.4px" text-anchor="end">0.2</text>
<text transform="translate(136.40,911.17) scale(1.0,1.035)" font-size="24.4px" text-anchor="end">0.4</text>
<text transform="translate(136.40,870.55) scale(1.0,1.035)" font-size="24.4px" text-anchor="end">0.6</text>
<text transform="translate(136.40,829.93) scale(1.0,1.035)" font-size="24.4px" text-anchor="end">0.8</text>
<text transform="translate(136.40,789.31) scale(1.0,1.035)" font-size="24.4px" text-anchor="end">1.0</text>
<text transform="translate(136.40,748.70) scale(1.0,1.035)" font-size="24.4px" text-anchor="end">1.2</text>
<text transform="translate(136.40,708.08) scale(1.0,1.035)" font-size="24.4px" text-anchor="end">1.4</text>
<text transform="translate(136.40,667.46) scale(1.0,1.035)" font-size="24.4px" text-anchor="end">1.6</text>
<text transform="translate(136.40,626.84) scale(1.0,1.035)" font-size="24.4px" text-anchor="end">1.8</text>
<text transform="translate(136.40,586.22) scale(1.0,1.035)" font-size="24.4px" text-anchor="end">2.0</text>
<text transform="translate(136.40,545.60) scale(1.0,1.035)" font-size="24.4px" text-anchor="end">2.2</text>
<text transform="translate(220.29,991.90) scale(1.0,1.035)" font-size="24.4px" text-anchor="middle">0.5</text>
<text transform="translate(313.53,991.90) scale(1.0,1.035)" font-size="24.4px" text-anchor="middle">1.0</text>
<text transform="translate(406.78,991.90) scale(1.0,1.035)" font-size="24.4px" text-anchor="middle">1.5</text>
<text transform="translate(500.02,991.90) scale(1.0,1.035)" font-size="24.4px" text-anchor="middle">2.0</text>
<text transform="translate(593.26,991.90) scale(1.0,1.035)" font-size="24.4px" text-anchor="middle">2.5</text>
<text transform="translate(686.50,991.90) scale(1.0,1.035)" font-size="24.4px" text-anchor="middle">3.0</text>
<text transform="translate(414.20,774.70) scale(1.0,1.04)" font-size="22.2px" text-anchor="start">G<tspan font-size="15.1px" dy="5.2">2</tspan><tspan dy="-5.2">=0.005</tspan></text>
<text transform="translate(414.20,807.50) scale(1.0,1.04)" font-size="22.2px" text-anchor="start">G<tspan font-size="15.1px" dy="5.2">2</tspan><tspan dy="-5.2">=0.006</tspan></text>
<text transform="translate(414.20,840.20) scale(1.0,1.04)" font-size="22.2px" text-anchor="start">G<tspan font-size="15.1px" dy="5.2">2</tspan><tspan dy="-5.2">=0.007</tspan></text>
<text transform="translate(414.20,873.00) scale(1.0,1.04)" font-size="22.2px" text-anchor="start">G<tspan font-size="15.1px" dy="5.2">2</tspan><tspan dy="-5.2">=0.008</tspan></text>
<text transform="translate(414.20,905.80) scale(1.0,1.04)" font-size="22.2px" text-anchor="start">G<tspan font-size="15.1px" dy="5.2">2</tspan><tspan dy="-5.2">=0.012</tspan></text>
<text transform="translate(414.20,938.60) scale(1.0,1.04)" font-size="22.2px" text-anchor="start">G<tspan font-size="15.1px" dy="5.2">2</tspan><tspan dy="-5.2">=0.017</tspan></text>
<text transform="translate(397.20,739.00)" font-size="26px" text-anchor="start">v<tspan font-size="17.2px" dy="7.2">1</tspan><tspan dy="-7.2">=0.01</tspan></text>
<text transform="translate(574.40,894.20)" font-size="27px" text-anchor="start" word-spacing="0.8">( d )</text>
<text transform="translate(354.30,1044.30) scale(1.17,1.0)" font-size="34px" text-anchor="start" font-weight="normal">ρ</text>
<text transform="translate(374.00,1053.10)" font-size="22px" text-anchor="start">BC</text>
<text transform="translate(404.40,1044.30)" font-size="34px" text-anchor="start">(</text>
<text transform="translate(416.30,1044.30)" font-size="34px" text-anchor="start">fm</text>
<text transform="translate(455.30,1032.30)" font-size="22px" text-anchor="start">-3</text>
<text transform="translate(474.20,1044.30)" font-size="34px" text-anchor="start">)</text>
<text transform="translate(72.50,787.60) rotate(-90)" font-size="34px" text-anchor="start">M/M</text>
<text transform="translate(81.70,714.60) rotate(-90)" font-size="21.6px" text-anchor="start">sun</text>
</g>
<g fill="none" stroke-width="2.2">
<path d="M357.1,767.1 H409.4" stroke="#000000"/>
<path d="M357.1,799.9 H409.4" stroke="#ff0000" stroke-dasharray="9.3 9.4"/>
<path d="M357.1,832.6 H409.4" stroke="#0000ff" stroke-dasharray="11.2 4.7 2.3 4.7"/>
<path d="M357.1,865.4 H409.4" stroke="#008000" stroke-dasharray="8.8 4.65 2.3 4.65 2.3 4.65"/>
<path d="M357.1,898.2 H409.4" stroke="#800080" stroke-dasharray="0.1 4.25" stroke-linecap="round" stroke-width="2.3" stroke-dashoffset="-1.0"/>
<path d="M357.1,931.0 H409.4" stroke="#ff8000" stroke-dasharray="7 3 2.3 3"/>
</g>
</svg>
</body></html>
